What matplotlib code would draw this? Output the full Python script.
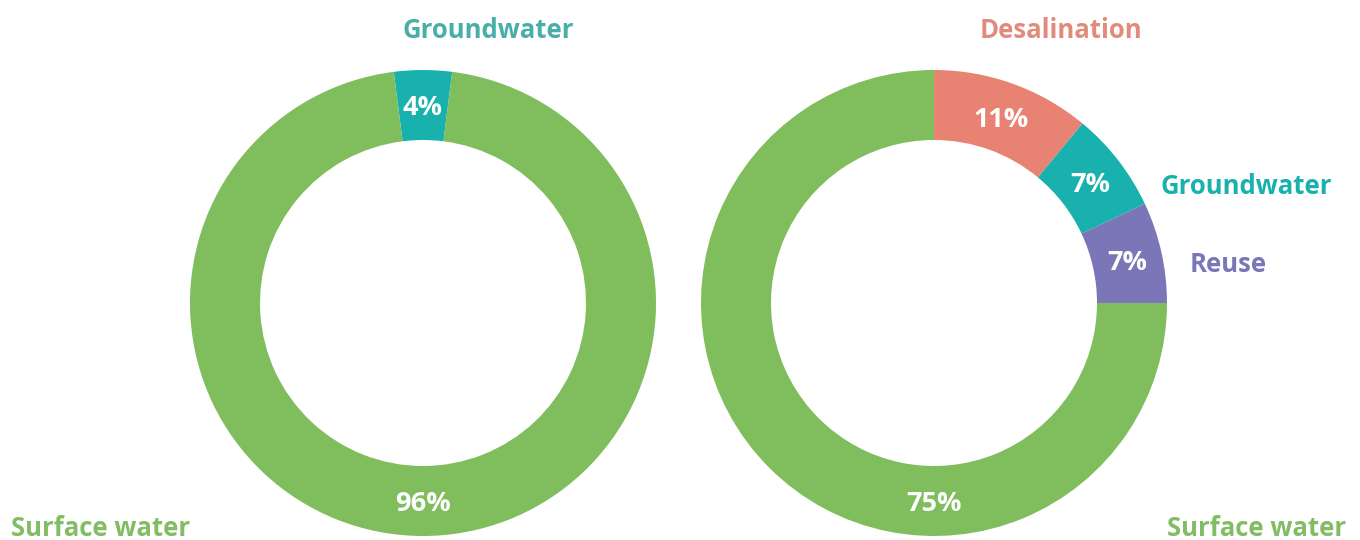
import matplotlib.pyplot as plt

# === Data ===
left_labels = ['Groundwater', 'Surface water']
left_values = [4, 96]
left_colors = ['#18B1AE', '#7FBD5D']

right_labels = ['Desalination', 'Groundwater', 'Reuse', 'Surface water']
right_values = [11, 7, 7, 75]
right_colors = ['#E88374', '#18B1AE', '#7B76B7', '#7FBD5D']

plt.rcParams['font.family'] = ['Open Sans', 'DejaVu Sans']

W, H = 1360, 540
fig = plt.figure(figsize=(W / 100, H / 100), dpi=100)
ax = fig.add_axes([0, 0, 1, 1])

R = 233
ring = 70
mid = R - ring / 2


def donut(values, colors, cx, cy, start):
    wedges, _, autotexts = ax.pie(
        values, colors=colors, center=(cx, cy), radius=R,
        startangle=start, counterclock=False,
        autopct=lambda p: f'{p:.0f}%', pctdistance=mid / R,
        wedgeprops=dict(width=ring, linewidth=0),
        textprops=dict(color='white', fontsize=19.5, fontweight='bold',
                       va='center_baseline'),
        frame=True)
    return autotexts


# left donut: groundwater slice centred at the top
donut(left_values, left_colors, 423, H - 303, 90 + left_values[0] * 3.6 / 2)
# right donut: starts at 12 o'clock, goes clockwise
at = donut(right_values, right_colors, 934, H - 303, 90)
# surface water label sits at the bottom of the ring
at[-1].set_position((934, H - 303 - mid))

ax.set_xlim(0, W)
ax.set_ylim(0, H)
ax.set_aspect('equal')
ax.axis('off')

lab = dict(fontsize=18.5, fontweight='bold', va='center_baseline')
ax.text(488, H - 28, 'Groundwater', color='#4AAEA8', ha='center', **lab)
ax.text(11, H - 525, 'Surface water', color='#82BC64', ha='left', **lab)
ax.text(1061, H - 28, 'Desalination', color='#E08B7B', ha='center', **lab)
ax.text(1246, H - 183, 'Groundwater', color='#18B1AE', ha='center', **lab)
ax.text(1228, H - 261, 'Reuse', color='#7B76B7', ha='center', **lab)
ax.text(1257, H - 525, 'Surface water', color='#82BC64', ha='center', **lab)

fig.savefig('out.png', dpi=100)
